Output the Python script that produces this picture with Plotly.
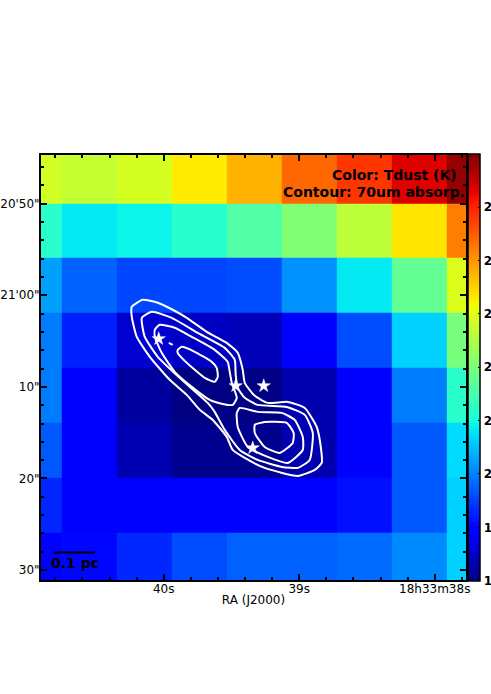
import plotly.graph_objects as go

# Cell edges of the temperature map (RA seconds, Dec arcsec past 20')
ra_edges = [40.915, 40.753, 40.347, 39.941, 39.535, 39.129, 38.723, 38.317, 37.911, 37.764]
dec_edges = [44.54, 50.0, 55.93, 61.88, 67.96, 73.90, 79.91, 85.88, 91.2]

tdust = [
    [22.84, 22.72, 22.88, 23.28, 23.76, 24.40, 24.82, 25.34, 25.84],
    [21.20, 20.84, 20.92, 21.20, 21.58, 22.06, 22.64, 23.34, 24.22],
    [20.26, 19.78, 19.54, 19.54, 19.60, 20.14, 20.84, 21.76, 22.94],
    [19.98, 19.24, 18.56, 18.48, 18.40, 18.92, 19.60, 20.64, 21.97],
    [19.98, 18.94, 18.22, 18.02, 18.04, 18.32, 18.88, 19.98, 21.20],
    [19.70, 18.94, 18.36, 18.10, 18.10, 18.32, 18.88, 19.70, 20.72],
    [19.31, 18.96, 18.96, 18.96, 18.96, 18.96, 19.12, 19.70, 20.64],
    [18.88, 19.04, 19.31, 19.60, 19.76, 19.76, 19.84, 20.08, 20.64],
]

c1_ra = [40.236, 40.155, 40.044, 39.934, 39.830, 39.683, 39.535, 39.454, 39.417, 39.402, 39.328, 39.232, 39.085, 38.959, 38.871, 38.841, 38.834, 38.886, 39.011, 39.255, 39.402, 39.491, 39.535, 39.638, 39.734, 39.830, 39.956, 40.103, 40.199, 40.236, 40.236]
c1_dec = [61.26, 60.49, 60.82, 61.58, 62.46, 63.99, 65.19, 66.28, 68.14, 69.56, 70.98, 71.75, 71.64, 72.30, 74.37, 76.56, 78.31, 79.07, 79.73, 78.85, 77.76, 76.89, 75.46, 73.61, 72.51, 70.87, 69.23, 66.72, 64.54, 62.35, 61.26]

c2_ra = [40.162, 40.089, 39.941, 39.749, 39.550, 39.476, 39.469, 39.454, 39.402, 39.306, 39.092, 38.959, 38.900, 38.923, 39.011, 39.129, 39.306, 39.439, 39.550, 39.624, 39.675, 39.867, 40.044, 40.140, 40.162]
c2_dec = [62.46, 61.80, 62.46, 64.10, 65.74, 67.05, 68.69, 70.11, 71.20, 71.97, 72.19, 73.06, 75.03, 77.98, 78.85, 78.74, 77.98, 76.89, 74.70, 72.73, 71.75, 69.23, 66.72, 64.54, 62.46]

c3a_ra = [40.066, 40.030, 39.919, 39.793, 39.624, 39.528, 39.513, 39.498, 39.461, 39.491, 39.565, 39.661, 39.793, 39.919, 40.015, 40.066, 40.066]
c3a_dec = [63.77, 63.22, 63.55, 64.54, 65.96, 67.27, 68.36, 69.56, 71.20, 71.97, 71.86, 71.42, 70.00, 68.36, 66.28, 64.54, 63.77]

c3b_ra = [39.461, 39.439, 39.306, 39.129, 39.033, 38.974, 38.974, 39.085, 39.232, 39.380, 39.454, 39.461]
c3b_dec = [72.84, 72.30, 72.73, 72.84, 73.61, 75.46, 76.89, 78.31, 77.65, 76.56, 74.37, 72.84]

c4a_ra = [39.897, 39.867, 39.771, 39.646, 39.609, 39.601, 39.624, 39.697, 39.771, 39.867, 39.897, 39.897]
c4a_dec = [65.96, 65.63, 66.17, 67.27, 67.92, 68.91, 69.45, 69.02, 68.14, 66.83, 66.28, 65.96]

c4b_ra = [39.328, 39.255, 39.092, 39.041, 39.048, 39.144, 39.255, 39.328, 39.328]
c4b_dec = [74.15, 73.83, 73.93, 75.03, 76.12, 77.21, 76.56, 75.03, 74.15]

c5_ra = [39.963, 39.934]
c5_dec = [65.19, 65.41]

star_ra = [40.037, 39.469, 39.262, 39.343]
star_dec = [64.75, 69.89, 69.89, 76.67]

scale_ra = [40.812, 40.509]
scale_dec = [88.09, 88.09]

ra_tickvals = [40, 39, 38]
ra_ticktext = ["40s", "39s", "18h33m38s"]
dec_tickvals = [50, 60, 70, 80, 90]
dec_ticktext = ["20'50\"", "21'00\"", "10\"", "20\"", "30\""]
cbar_tickvals = [18, 19, 20, 21, 22, 23, 24, 25]
cbar_ticktext = ["18", "19", "20", "21", "22", "23", "24", "25"]

jet = [
    [0.0, "rgb(0,0,127)"], [0.11, "rgb(0,0,255)"], [0.125, "rgb(0,0,255)"],
    [0.34, "rgb(0,219,255)"], [0.35, "rgb(0,229,246)"], [0.375, "rgb(20,255,226)"],
    [0.64, "rgb(238,255,8)"], [0.65, "rgb(247,246,0)"], [0.66, "rgb(255,236,0)"],
    [0.89, "rgb(255,19,0)"], [0.91, "rgb(232,0,0)"], [1.0, "rgb(127,0,0)"],
]

FONT = "DejaVu Sans"
L, R, T, B = 41.3, 466.3, 155.3, 580
W, H = 491, 694


def px(x):
    return (x - L) / (R - L)


def py(y):
    return 1 - (y - T) / (B - T)


fig = go.Figure()
fig.add_trace(go.Heatmap(
    x=ra_edges, y=dec_edges, z=tdust, colorscale=jet, zmin=18, zmax=26, zsmooth=False,
    hoverinfo="skip",
    colorbar=dict(
        x=px(468), xanchor="left", y=py(154), yanchor="top",
        thickness=12, thicknessmode="pixels", len=427, lenmode="pixels",
        outlinecolor="black", outlinewidth=1.5, xpad=0, ypad=0,
        tickmode="array", tickvals=cbar_tickvals, ticktext=cbar_ticktext,
        ticks="inside", ticklen=2, tickcolor="black", tickwidth=1,
        ticklabelposition="outside",
        tickfont=dict(family=FONT, size=12, color="black", weight="bold"),
    ),
))

for ra, dec in [(c1_ra, c1_dec), (c2_ra, c2_dec), (c3a_ra, c3a_dec), (c3b_ra, c3b_dec),
                (c4a_ra, c4a_dec), (c4b_ra, c4b_dec), (c5_ra, c5_dec)]:
    fig.add_trace(go.Scatter(x=ra, y=dec, mode="lines", hoverinfo="skip", showlegend=False,
                             line=dict(color="white", width=2, shape="spline", smoothing=0.5)))

fig.add_trace(go.Scatter(x=star_ra, y=star_dec, mode="markers", hoverinfo="skip", showlegend=False,
                         marker=dict(symbol="star", size=10, color="white", line=dict(width=0.5, color="white"))))
fig.add_trace(go.Scatter(x=scale_ra, y=scale_dec, mode="lines", hoverinfo="skip", showlegend=False,
                         line=dict(color="black", width=2)))

bold = dict(family=FONT, size=14, color="black", weight="bold")
fig.add_annotation(x=px(459.5), y=py(175), xref="paper", yref="paper", text="Color: Tdust (K)",
                   showarrow=False, xanchor="right", yanchor="middle", font=bold)
fig.add_annotation(x=px(467.5), y=py(192), xref="paper", yref="paper", text="Contour: 70um absorp.",
                   showarrow=False, xanchor="right", yanchor="middle", font=bold)
fig.add_annotation(x=px(75), y=py(563), xref="paper", yref="paper", text="0.1 pc",
                   showarrow=False, xanchor="center", yanchor="middle", font=bold)

axis = dict(showgrid=False, zeroline=False, showline=True, linecolor="black", linewidth=2,
            mirror="allticks", ticks="inside", ticklen=6, tickwidth=1.5, tickcolor="black",
            tickfont=dict(family=FONT, size=12, color="black"))
fig.update_xaxes(range=[40.906, 37.769], tickmode="array", tickvals=ra_tickvals, ticktext=ra_ticktext,
                 ticklabelstandoff=-3,
                 minor=dict(ticks="inside", ticklen=3, tickwidth=1.5, tickcolor="black", dtick=0.2, tick0=40),
                 title=dict(text="RA (J2000)", font=dict(family=FONT, size=12, color="black"), standoff=0),
                 **axis)
fig.update_yaxes(range=[91.09, 44.68], tickmode="array", tickvals=dec_tickvals, ticktext=dec_ticktext,
                 ticklabelstandoff=-3,
                 minor=dict(ticks="inside", ticklen=3, tickwidth=1.5, tickcolor="black", dtick=2, tick0=50),
                 **axis)
fig.update_layout(
    width=W, height=H, autosize=False, showlegend=False,
    margin=dict(l=L, r=W - R, t=T, b=H - B, pad=0, autoexpand=False),
    paper_bgcolor="white", plot_bgcolor="white",
    font=dict(family=FONT),
)

fig.write_html("out.html", config={"displayModeBar": False},
               post_script="document.body.style.margin='0';document.body.style.overflow='hidden';")
